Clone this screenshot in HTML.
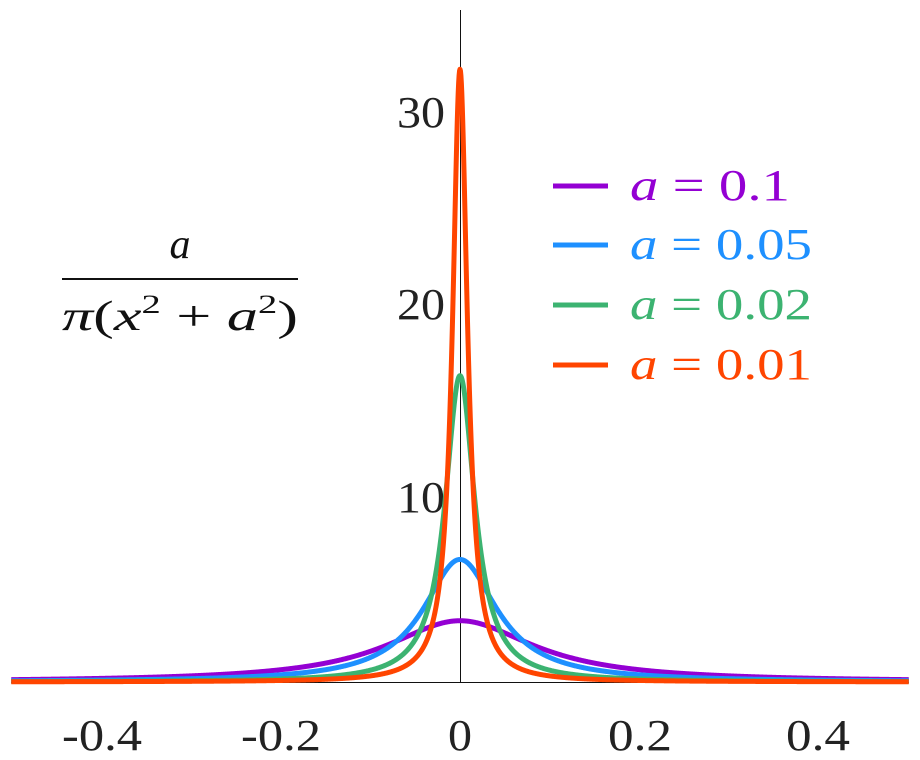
<!DOCTYPE html>
<html><head><meta charset="utf-8"><style>
html,body{margin:0;padding:0;background:#fff;}
svg{display:block;font-family:"Liberation Serif","DejaVu Serif",serif;}
</style></head><body>
<svg id="s" width="920" height="760" viewBox="0 0 920 760" xmlns="http://www.w3.org/2000/svg">
<rect width="920" height="760" fill="#fff"/>
<line x1="460.5" y1="10" x2="460.5" y2="682" stroke="#111" stroke-width="1"/>
<line x1="11" y1="682.5" x2="909" y2="682.5" stroke="#111" stroke-width="1"/>
<g font-size="44" fill="#222">
<text x="397" y="127" textLength="48" lengthAdjust="spacingAndGlyphs">30</text>
<text x="397" y="319" textLength="48" lengthAdjust="spacingAndGlyphs">20</text>
<text x="397" y="512" textLength="48" lengthAdjust="spacingAndGlyphs">10</text>
</g>
<g font-size="44" fill="#222">
<text x="62" y="750" textLength="80" lengthAdjust="spacingAndGlyphs">-0.4</text>
<text x="241" y="750" textLength="80" lengthAdjust="spacingAndGlyphs">-0.2</text>
<text x="448" y="750" textLength="24" lengthAdjust="spacingAndGlyphs">0</text>
<text x="608" y="750" textLength="64" lengthAdjust="spacingAndGlyphs">0.2</text>
<text x="786" y="750" textLength="64" lengthAdjust="spacingAndGlyphs">0.4</text>
</g>
<g font-size="42" fill="#111">
<text x="180" y="258" font-style="italic" text-anchor="middle">a</text>
<line x1="62" y1="279" x2="298" y2="279" stroke="#111" stroke-width="2"/>
<text x="62" y="330" textLength="236" lengthAdjust="spacingAndGlyphs"><tspan font-style="italic">π</tspan>(<tspan font-style="italic">x</tspan><tspan font-size="26" dy="-17">2</tspan><tspan dy="17"> + </tspan><tspan font-style="italic">a</tspan><tspan font-size="26" dy="-17">2</tspan><tspan dy="17">)</tspan></text>
</g>
<g font-size="44" stroke-width="5">
<line x1="553" y1="186" x2="608" y2="186" stroke="#9400D3"/>
<text x="630" y="200" fill="#9400D3" textLength="160" lengthAdjust="spacingAndGlyphs"><tspan font-style="italic">a</tspan> = 0.1</text>
<line x1="553" y1="245" x2="608" y2="245" stroke="#1E90FF"/>
<text x="630" y="259" fill="#1E90FF" textLength="182" lengthAdjust="spacingAndGlyphs"><tspan font-style="italic">a</tspan> = 0.05</text>
<line x1="553" y1="305" x2="608" y2="305" stroke="#3CB371"/>
<text x="630" y="319" fill="#3CB371" textLength="182" lengthAdjust="spacingAndGlyphs"><tspan font-style="italic">a</tspan> = 0.02</text>
<line x1="553" y1="365" x2="608" y2="365" stroke="#FF4500"/>
<text x="630" y="379" fill="#FF4500" textLength="182" lengthAdjust="spacingAndGlyphs"><tspan font-style="italic">a</tspan> = 0.01</text>
</g>
<g id="curves" fill="none" stroke-width="5" stroke-linejoin="round"></g>
</svg>
<script>
(function(){
var g=document.getElementById('curves');
var specs=[[0.1,'#9400D3'],[0.05,'#1E90FF'],[0.02,'#3CB371'],[0.01,'#FF4500']];
specs.forEach(function(s){
var a=s[0],d='';
for(var i=0;i<=2000;i++){
var x=-0.5+i/2000;
var y=a/(Math.PI*(x*x+a*a));
var px=460+x*897.5,py=682-y*19.25;
d+=(i?'L':'M')+px.toFixed(2)+' '+py.toFixed(2);
}
var p=document.createElementNS('http://www.w3.org/2000/svg','path');
p.setAttribute('d',d);p.setAttribute('stroke',s[1]);
g.appendChild(p);
});
})();
</script>
</body></html>
